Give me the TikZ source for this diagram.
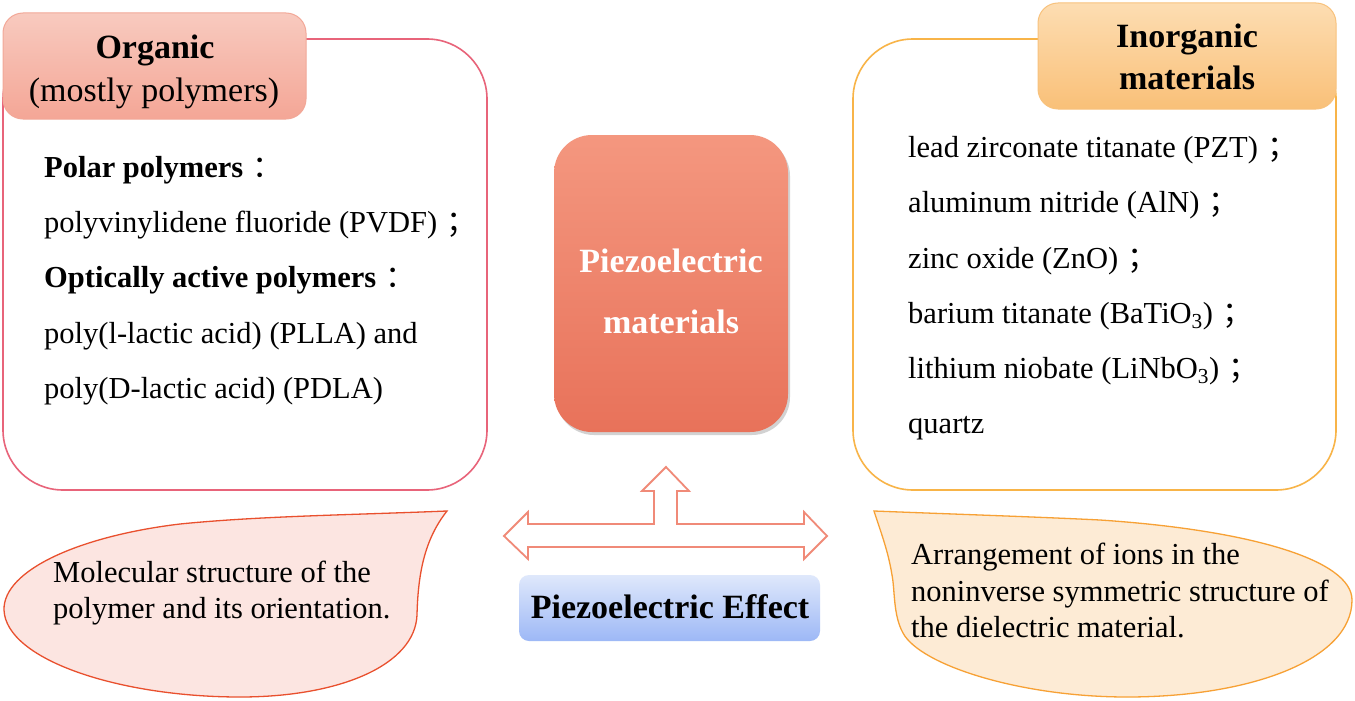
\documentclass[tikz,border=0pt]{standalone}
\usepackage{fontspec}
\setmainfont{Liberation Serif}
\newfontfamily\cjkfont{Noto Sans CJK SC}
\usetikzlibrary{shadows}
\newcommand{\fwc}[1]{\kern0.3em{\cjkfont #1}}
\definecolor{orgline}{HTML}{E8647A}
\definecolor{orgtop}{HTML}{F8CABF}
\definecolor{orgbot}{HTML}{F4A696}
\definecolor{orgbd}{HTML}{F2A898}
\definecolor{inline}{HTML}{F8B448}
\definecolor{intop}{HTML}{FDDDB2}
\definecolor{inbot}{HTML}{F9C078}
\definecolor{inbd}{HTML}{F8C27D}
\definecolor{ctop}{HTML}{F4977F}
\definecolor{cbot}{HTML}{E8725A}
\definecolor{arrline}{HTML}{F08A78}
\definecolor{etop}{HTML}{DFE8FB}
\definecolor{ebot}{HTML}{9DB8F6}
\definecolor{lbfill}{HTML}{FCE5E1}
\definecolor{lbline}{HTML}{E9502E}
\definecolor{rbfill}{HTML}{FDEBD5}
\definecolor{rbline}{HTML}{F7A135}
\begin{document}
\begin{tikzpicture}[x=1pt,y=-1pt,
  txt/.style={anchor=base west,inner sep=0pt,font=\fontsize{30.5}{36}\selectfont},
  ttl/.style={inner sep=0pt,font=\fontsize{34}{42}\selectfont\bfseries,align=center},
  bigbox/.style={draw,line width=1.6pt,rounded corners=60pt,fill=white,inner sep=0pt},
  labbox/.style={draw,line width=1pt,rounded corners=20pt,inner sep=0pt}
]
\useasboundingbox (0,0) rectangle (1355,701);
\fill[white] (0,0) rectangle (1355,701);

% Organic
\node[bigbox,draw=orgline,minimum width=484pt,minimum height=451pt] (orgbox) at (245,264.5) {};
\node[labbox,draw=orgbd,top color=orgtop,bottom color=orgbot,minimum width=303pt,minimum height=106pt] (orglab) at (154.5,66) {};
\node[ttl,anchor=base] (orgt1) at (155,59) {Organic};
\node[ttl,anchor=base,font=\fontsize{34}{42}\selectfont] (orgt2) at (154,101) {(mostly polymers)};
\node[txt] (o1) at (44,177) {\textbf{Polar polymers}\fwc{：}};
\node[txt] (o2) at (44,232) {polyvinylidene fluoride (PVDF)\fwc{；}};
\node[txt] (o3) at (44,287) {\textbf{Optically active polymers}\fwc{：}};
\node[txt] (o4) at (44,343) {poly(l-lactic acid) (PLLA) and};
\node[txt] (o5) at (44,398) {poly(D-lactic acid) (PDLA)};

% Inorganic
\node[bigbox,draw=inline,minimum width=483pt,minimum height=451pt] (inbox) at (1094.5,264.5) {};
\node[labbox,draw=inbd,top color=intop,bottom color=inbot,minimum width=298pt,minimum height=106pt] (inlab) at (1187,56) {};
\node[ttl,anchor=base] (int1) at (1187,48) {Inorganic};
\node[ttl,anchor=base] (int2) at (1187,89) {materials};
\node[txt] (i1) at (908,157) {lead zirconate titanate (PZT)\fwc{；}};
\node[txt] (i2) at (908,212) {aluminum nitride (AlN)\fwc{；}};
\node[txt] (i3) at (908,268) {zinc oxide (ZnO)\fwc{；}};
\node[txt] (i4) at (908,323) {barium titanate (BaTiO\textsubscript{3})\fwc{；}};
\node[txt] (i5) at (908,378) {lithium niobate (LiNbO\textsubscript{3})\fwc{；}};
\node[txt] (i6) at (908,433) {quartz};

% Center
\node[rounded corners=38pt,top color=ctop,bottom color=cbot,minimum width=234pt,minimum height=297pt,inner sep=0pt,
  drop shadow={opacity=0.35,shadow xshift=2pt,shadow yshift=-3pt}] (center) at (671,283.5) {};
\node[ttl,anchor=base,text=white] (c1) at (671,272) {Piezoelectric};
\node[ttl,anchor=base,text=white] (c2) at (671,333) {materials};

% Arrow
\draw[arrline,line width=1.8pt,fill=white,line join=miter]
  (666,467) -- (689,491) -- (677,491) -- (677,524) -- (804,524) -- (804,512) -- (827,536)
  -- (804,559) -- (804,547) -- (528,547) -- (528,559) -- (504,536) -- (528,512) -- (528,524)
  -- (654,524) -- (654,491) -- (642,491) -- cycle;

% Effect box
\node[rounded corners=10pt,top color=etop,bottom color=ebot,minimum width=301pt,minimum height=66pt,inner sep=0pt] (effect) at (669.5,608) {};
\node[ttl,anchor=base] (efft) at (670,618) {Piezoelectric Effect};

% Left bubble
\draw[lbline,line width=1.3pt,fill=lbfill]
  (447,511) .. controls (350,515) and (260,516) .. (180,524)
  .. controls (80,536) and (3,570) .. (4,610)
  .. controls (6,660) and (120,697) .. (240,697)
  .. controls (340,697) and (415,665) .. (417,615)
  .. controls (418,575) and (424,540) .. (447,511) -- cycle;
\node[txt] (l1) at (53,582) {Molecular structure of the};
\node[txt] (l2) at (53,618) {polymer and its orientation.};

% Right bubble
\draw[rbline,line width=1.3pt,fill=rbfill]
  (874,511) .. controls (950,514) and (1040,517) .. (1100,520)
  .. controls (1250,530) and (1352,560) .. (1352,600)
  .. controls (1352,660) and (1250,697) .. (1127,697)
  .. controls (1020,697) and (920,665) .. (903,633)
  .. controls (893,615) and (895,590) .. (892,575)
  .. controls (888,550) and (880,530) .. (874,511) -- cycle;
\node[txt] (r1) at (911,564) {Arrangement of ions in the};
\node[txt] (r2) at (911,601) {noninverse symmetric structure of};
\node[txt] (r3) at (911,637) {the dielectric material.};
\end{tikzpicture}
\end{document}
